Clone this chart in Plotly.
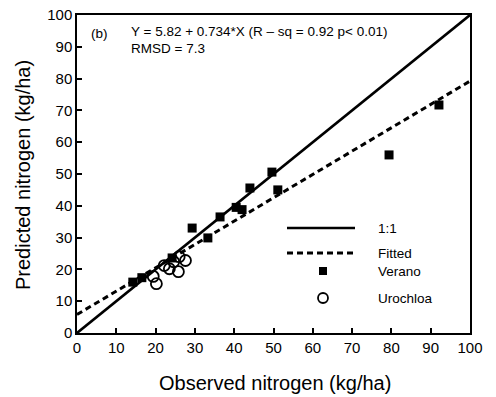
import plotly.graph_objects as go

# Data
verano_x = [14.2, 16.5, 24.2, 29.3, 33.3, 36.4, 40.5, 42.0, 44.0, 49.6, 51.1, 79.4, 92.1]
verano_y = [16.0, 17.4, 23.6, 33.0, 29.9, 36.5, 39.5, 38.8, 45.6, 50.6, 45.0, 56.0, 71.7]
uro_x = [19.4, 20.2, 22.2, 23.5, 24.6, 25.8, 26.0, 27.6]
uro_y = [17.8, 15.5, 21.2, 20.2, 22.4, 19.3, 24.0, 22.8]
line_x = [0, 100]
fit_a, fit_b = 5.82, 0.734
tick_vals = list(range(0, 101, 10))

fig = go.Figure()
fig.add_trace(go.Scatter(x=line_x, y=line_x, mode="lines",
                         line=dict(color="black", width=2.6), showlegend=False))
fig.add_trace(go.Scatter(x=line_x, y=[fit_a + fit_b * v for v in line_x], mode="lines",
                         line=dict(color="black", width=3, dash="6px,4px"), showlegend=False))
fig.add_trace(go.Scatter(x=verano_x, y=verano_y, mode="markers",
                         marker=dict(symbol="square", size=9, color="black"), showlegend=False))
fig.add_trace(go.Scatter(x=uro_x, y=uro_y, mode="markers",
                         marker=dict(symbol="circle-open", size=11, color="black",
                                     line=dict(width=1.8, color="black")), showlegend=False))

font = "Liberation Sans, Arial, sans-serif"
axis_common = dict(range=[0, 100], tickvals=tick_vals, ticks="inside", ticklen=5,
                   tickwidth=1.5, tickcolor="black", showline=True, linecolor="black",
                   linewidth=1.5, mirror=True, showgrid=False, zeroline=False, automargin=False,
                   tickfont=dict(family=font, size=15, color="black"))
fig.update_xaxes(**axis_common)
fig.update_yaxes(**axis_common)

# custom legend (paper coordinates)
def px(xp, yp):
    return (xp - 77) / (470 - 77), (333 - yp) / (333 - 15)

shapes = []
x0, y0 = px(287, 228); x1, _ = px(355, 228)
shapes.append(dict(type="line", xref="paper", yref="paper", x0=x0, x1=x1, y0=y0, y1=y0,
                   line=dict(color="black", width=2.6)))
x0, y0 = px(287, 253); x1, _ = px(355, 253)
shapes.append(dict(type="line", xref="paper", yref="paper", x0=x0, x1=x1, y0=y0, y1=y0,
                   line=dict(color="black", width=3, dash="6px,4px")))
sx0, sy0 = px(319, 275); sx1, sy1 = px(327, 267)
shapes.append(dict(type="rect", xref="paper", yref="paper", x0=sx0, x1=sx1, y0=sy0, y1=sy1,
                   fillcolor="black", line=dict(width=0)))
cx0, cy0 = px(318, 303); cx1, cy1 = px(328, 293)
shapes.append(dict(type="circle", xref="paper", yref="paper", x0=cx0, x1=cx1, y0=cy0, y1=cy1,
                   line=dict(color="black", width=1.8)))

ann = []
for label, yp in [("1:1", 228), ("Fitted", 253), ("Verano", 271), ("Urochloa", 298)]:
    ax, ay = px(376, yp)
    ann.append(dict(text=label, xref="paper", yref="paper", x=ax, y=ay, xanchor="left",
                    yanchor="middle", showarrow=False, font=dict(family=font, size=13.5, color="black")))
ax, ay = px(89, 33)
ann.append(dict(text="(b)", xref="paper", yref="paper", x=ax, y=ay, xanchor="left",
                yanchor="middle", showarrow=False, font=dict(family=font, size=13.5, color="black")))
ax, ay = px(129, 32)
ann.append(dict(text="Y = 5.82 + 0.734*X (R \u2013 sq = 0.92 p< 0.01)", xref="paper", yref="paper",
                x=ax, y=ay, xanchor="left", yanchor="middle", showarrow=False,
                font=dict(family=font, size=13.5, color="black")))
ax, ay = px(129, 48.5)
ann.append(dict(text="RMSD = 7.3", xref="paper", yref="paper", x=ax, y=ay, xanchor="left",
                yanchor="middle", showarrow=False, font=dict(family=font, size=13.5, color="black")))

# axis titles
ax, ay = px(275, 383)
ann.append(dict(text="Observed nitrogen (kg/ha)", xref="paper", yref="paper", x=ax, y=ay,
                xanchor="center", yanchor="middle", showarrow=False,
                font=dict(family=font, size=20, color="black")))
ax, ay = px(23, 175)
ann.append(dict(text="Predicted nitrogen (kg/ha)", xref="paper", yref="paper", x=ax, y=ay,
                xanchor="center", yanchor="middle", showarrow=False, textangle=-90,
                font=dict(family=font, size=20, color="black")))

fig.update_layout(width=496, height=397, margin=dict(l=77, r=26, t=15, b=64),
                  plot_bgcolor="white", paper_bgcolor="white", shapes=shapes, annotations=ann,
                  showlegend=False)
fig.write_html("out.html")
